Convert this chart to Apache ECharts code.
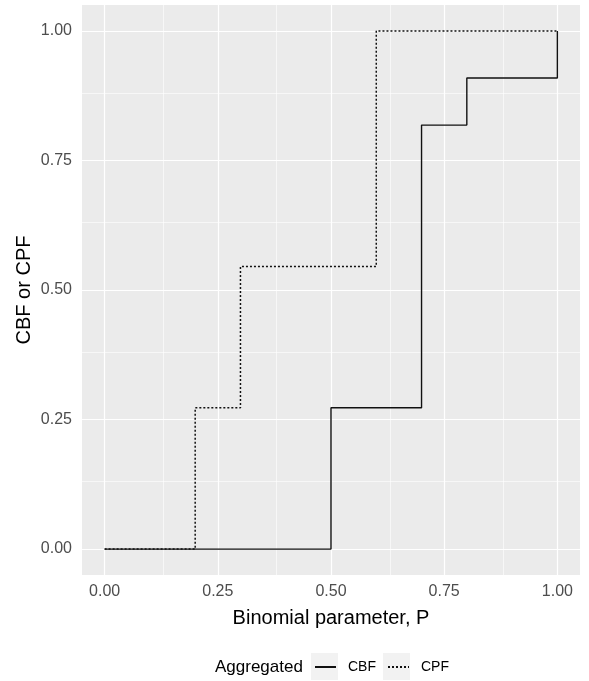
<!DOCTYPE html>
<html>
<head>
<meta charset="utf-8">
<script src="https://cdn.jsdelivr.net/npm/echarts@6/dist/echarts.min.js"></script>
<style>
  html, body { margin: 0; padding: 0; background: #fff; }
  #chart { width: 589px; height: 681px; }
</style>
</head>
<body>
<div id="chart"></div>
<script>
// step points: value holds until the next x, then jumps
const cbfX = [0, 0.5, 0.7, 0.8, 1]
const cbfY = [0, 0.2727, 0.8182, 0.9091, 1]
const cpfX = [0, 0.2, 0.3, 0.6, 1]
const cpfY = [0, 0.2727, 0.5455, 1, 1]
const majorTicks = [0, 0.25, 0.5, 0.75, 1]
const minorTicks = [0.125, 0.375, 0.625, 0.875]

const FONT = '"Liberation Sans", Arial, sans-serif'
const LINE = '#111'

function zipPts(xs, ys) {
  return xs.map((x, i) => [x, ys[i]])
}

// background grid as markLines (ggplot major + minor)
function gridLines() {
  const major = { color: '#fff', width: 1.2, type: 'solid' }
  const minor = { color: '#fff', width: 0.6, type: 'solid' }
  const out = []
  majorTicks.forEach((v) => {
    out.push({ xAxis: v, lineStyle: major })
    out.push({ yAxis: v, lineStyle: major })
  })
  minorTicks.forEach((v) => {
    out.push({ xAxis: v, lineStyle: minor })
    out.push({ yAxis: v, lineStyle: minor })
  })
  return out
}

const axisCommon = {
  type: 'value',
  min: -0.05,
  max: 1.05,
  splitLine: { show: false },
  axisLine: { show: false },
  axisTick: { show: true, length: 4, customValues: majorTicks, lineStyle: { color: '#333', width: 1 } },
  axisLabel: {
    customValues: majorTicks,
    color: '#4d4d4d',
    fontSize: 16,
    fontFamily: FONT,
    formatter: (v) => Number(v).toFixed(2)
  },
  nameLocation: 'middle',
  nameMoveOverlap: false,
  nameTextStyle: { color: '#000', fontSize: 20, fontFamily: FONT }
}

const chart = echarts.init(document.getElementById('chart'), null, { renderer: 'canvas' })
chart.setOption({
  animation: false,
  backgroundColor: '#fff',
  grid: {
    left: 82, right: 9, top: 5, bottom: 106,
    show: true, backgroundColor: '#ebebeb', borderWidth: 0
  },
  xAxis: Object.assign({}, axisCommon, {
    name: 'Binomial parameter, P',
    nameGap: 33,
    axisLabel: Object.assign({}, axisCommon.axisLabel, { margin: 9 })
  }),
  yAxis: Object.assign({}, axisCommon, {
    name: 'CBF or CPF',
    nameGap: 48,
    axisLabel: Object.assign({}, axisCommon.axisLabel, { margin: 10 })
  }),
  legend: {
    data: ['CBF', 'CPF'],
    left: 314,
    top: 660,
    padding: 0,
    itemWidth: 21,
    itemHeight: 14,
    itemGap: 11,
    itemStyle: { color: 'transparent', borderWidth: 0, opacity: 0 },
    textStyle: { color: '#000', fontSize: 14, fontFamily: FONT, padding: [0, 0, 0, 7] },
    selectedMode: false
  },
  graphic: [
    { type: 'rect', shape: { x: 311, y: 653, width: 27, height: 27 }, style: { fill: '#f2f2f2' }, z: -1 },
    { type: 'rect', shape: { x: 383, y: 653, width: 27, height: 27 }, style: { fill: '#f2f2f2' }, z: -1 },
    {
      type: 'text', x: 215, y: 667,
      style: { text: 'Aggregated', fill: '#000', fontSize: 17, fontFamily: FONT, verticalAlign: 'middle' }
    }
  ],
  series: [
    {
      name: 'grid',
      type: 'line',
      data: [],
      silent: true,
      z: 1,
      markLine: { silent: true, symbol: 'none', label: { show: false }, data: gridLines(), animation: false }
    },
    {
      name: 'CBF',
      type: 'line',
      step: 'end',
      data: zipPts(cbfX, cbfY),
      symbol: 'none',
      zlevel: 1,
      lineStyle: { color: LINE, width: 1.4, type: 'solid' },
      itemStyle: { color: LINE }
    },
    {
      name: 'CPF',
      type: 'line',
      step: 'end',
      data: zipPts(cpfX, cpfY),
      symbol: 'none',
      zlevel: 1,
      lineStyle: { color: LINE, width: 1.5, type: [2, 2] },
      itemStyle: { color: LINE }
    }
  ]
})
</script>
</body>
</html>
